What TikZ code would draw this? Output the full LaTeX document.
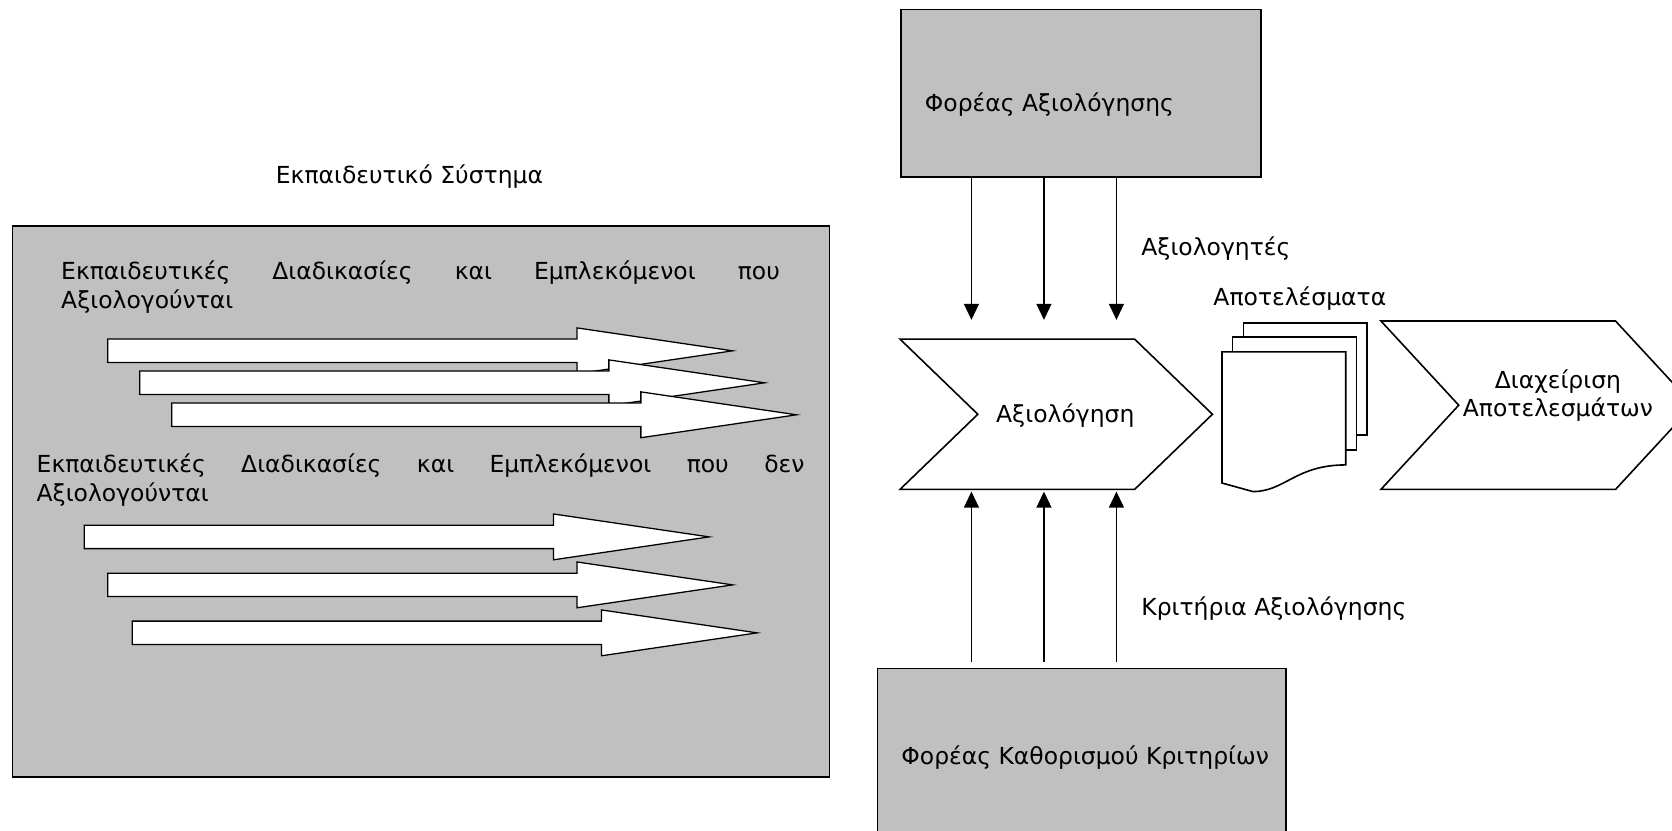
\documentclass[tikz,border=0pt]{standalone}
\usepackage{fontspec}
\setmainfont{DejaVu Sans}
\usetikzlibrary{arrows.meta,positioning,calc}
\definecolor{boxgray}{RGB}{192,192,192}
\tikzset{
    % Grey frame style
    greybox/.style={
        rectangle, draw=black, line width=0.75pt, fill=boxgray,
        inner sep=0pt
    },
    % Plain text style
    plaintext/.style={
        rectangle, draw=none, fill=none, inner sep=0pt,
        font=\fontsize{11}{13.5}\selectfont
    },
    % Justified paragraph style
    paratext/.style={
        plaintext, align=justify, anchor=north west
    },
    % Block arrow style
    blockarrow/.style={
        draw=black, line width=0.6pt, fill=white, line join=miter
    },
    % Chevron and page style
    chevron/.style={
        draw=black, line width=0.75pt, fill=white
    },
    % Flow arrows
    flowarrow/.style={
        -{Triangle[width=7pt,length=7.5pt]}, line width=0.6pt
    }
}

\begin{document}
\begin{tikzpicture}[x=0.5pt, y=-0.5pt]
\useasboundingbox (0,0) rectangle (1568,779.3);

% Educational system
\node[plaintext] (systitle) at (384,166) {Εκπαιδευτικό Σύστημα};
\node[greybox, anchor=north west, minimum width=383pt, minimum height=258.5pt] (system) at (11,211) {};

\node[paratext, text width=337pt] (evaltext) at (57,244)
    {Εκπαιδευτικές Διαδικασίες και Εμπλεκόμενοι που Αξιολογούνται};
\node[paratext, text width=360pt] (nonevaltext) at (34,425)
    {Εκπαιδευτικές Διαδικασίες και Εμπλεκόμενοι που δεν Αξιολογούνται};

% Process arrows
\foreach \x/\y in {101/329,131/359,161/389,79/503.5,101/548.5,124/593.5} {
    \draw[blockarrow] (\x,\y-11) -- (\x+440,\y-11) -- (\x+440,\y-21.5)
        -- (\x+586,\y) -- (\x+440,\y+21.5) -- (\x+440,\y+11)
        -- (\x,\y+11) -- cycle;
}

% Evaluation body and criteria body
\node[greybox, anchor=north west, minimum width=169pt, minimum height=78.5pt] (evalbody) at (844,8) {};
\node[plaintext, anchor=west] (evalbodytext) at (867,98) {Φορέας Αξιολόγησης};
\node[greybox, anchor=north west, minimum width=191.5pt, minimum height=90pt] (critbody) at (822,626) {};
\node[plaintext, anchor=west] (critbodytext) at (845,710) {Φορέας Καθορισμού Κριτηρίων};

% Evaluation step
\draw[chevron] (844,318) -- (1064,318) -- (1137,388.5) -- (1064,459)
    -- (844,459) -- (917,388.5) -- cycle;
\node[plaintext] (evaluation) at (999,390) {Αξιολόγηση};

\coordinate (in1) at (911,300);
\coordinate (in2) at (979,300);
\coordinate (in3) at (1047,300);
\coordinate (up1) at (911,461);
\coordinate (up2) at (979,461);
\coordinate (up3) at (1047,461);
\foreach \c in {in1,in2,in3}
    \draw[flowarrow] (\c |- evalbody.south) -- (\c);
\foreach \c in {up1,up2,up3}
    \draw[flowarrow, shorten <=2.5pt] (\c |- critbody.north) -- (\c);

\node[plaintext, anchor=west] (assessors) at (1070,233) {Αξιολογητές};
\node[plaintext, anchor=west] (criteria) at (1070,571) {Κριτήρια Αξιολόγησης};

% Results documents
\node[plaintext] (resultstitle) at (1219,280) {Αποτελέσματα};
\draw[chevron] (1166,303) rectangle (1282,408);
\draw[chevron] (1156,316) rectangle (1272,422);
\draw[chevron] (1146,330) -- (1262,330) -- (1262,436)
    .. controls (1215,436) and (1205,461) .. (1175,461)
    -- (1146,453) -- cycle;

% Results management step
\draw[chevron] (1295,301) -- (1515,301) -- (1588,380) -- (1515,459)
    -- (1295,459) -- (1368,380) -- cycle;
\node[plaintext, align=center] (management) at (1461,371) {Διαχείριση\\Αποτελεσμάτων};

\end{tikzpicture}
\end{document}
